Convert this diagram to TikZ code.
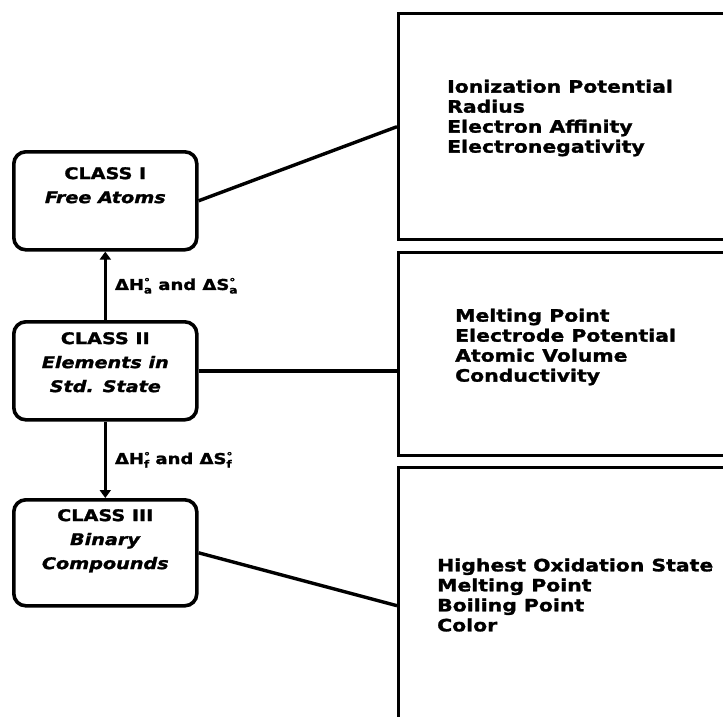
\documentclass[tikz,border=0pt]{standalone}
\usepackage{fontspec}
\setmainfont[FakeStretch=1.2, BoldFeatures={FakeBold=1.5}, BoldItalicFeatures={FakeBold=1.5}]{DejaVu Sans}
\usepackage{tikz}
\usetikzlibrary{arrows.meta, positioning, calc}

\newcommand{\stk}[2]{{\fontsize{10}{10}\selectfont\rlap{\raisebox{4.5pt}{#1}}\raisebox{-3.5pt}{#2}}}

\begin{document}
\begin{tikzpicture}[x=1pt, y=-1pt,
    cls/.style={draw, line width=3.6pt, rounded corners=12pt, minimum width=183pt, minimum height=98pt, anchor=north west},
    clstxt/.style={align=center, font=\fontsize{16}{24}\selectfont\bfseries, inner sep=0pt},
    prop/.style={draw, line width=3.4pt, minimum width=420pt, anchor=north west},
    lst/.style={align=left, anchor=west, font=\fontsize{17}{20}\selectfont\bfseries, inner sep=0pt},
    dlt/.style={font=\fontsize{15}{18}\selectfont\bfseries, inner sep=0pt},
    lnk/.style={line width=3.4pt},
    up/.style={line width=3.4pt, -{Triangle[length=8pt,width=11pt]}}]
    \useasboundingbox (0,0) rectangle (723,717);
    \clip (0,0) rectangle (723,717);
    % left column
    \node[cls] (cls1) at (12,150) {};
    \node[cls] (cls2) at (12,320) {};
    \node[cls, minimum height=106pt] (cls3) at (12,498) {};
    \node[clstxt, below=17pt of cls1.north] (t1) {CLASS I\\\textit{Free Atoms}};
    \node[clstxt, below=12pt of cls2.north] (t2) {CLASS II\\\textit{Elements in}\\\textit{Std. State}};
    \node[clstxt, below=11pt of cls3.north] (t3) {CLASS III\\\textit{Binary}\\\textit{Compounds}};
    \draw[up] (cls2.north) -- (cls1.south) node[dlt, midway, right=8pt] (d1) {ΔH\stk{°}{a} and ΔS\stk{°}{a}};
    \draw[up] (cls2.south) -- (cls3.north) node[dlt, midway, right=8pt] (d2) {ΔH\stk{°}{f} and ΔS\stk{°}{f}};
    % right column
    \node[prop, minimum height=226pt] (box1) at (397,12) {};
    \node[prop, minimum height=203pt] (box2) at (397,251) {};
    \node[prop, minimum height=260pt] (box3) at (397,466) {};
    \node[lst] (l1) at (447,118) {Ionization Potential\\Radius\\Electron Affinity\\Electronegativity};
    \node[lst] (l2) at (455,347) {Melting Point\\Electrode Potential\\Atomic Volume\\Conductivity};
    \node[lst] (l3) at (437,595) {Highest Oxidation State\\Melting Point\\Boiling Point\\Color};
    \draw[lnk] (cls1.east) -- (box1.west);
    \draw[lnk] (cls2.east) -- (cls2.east -| box2.west);
    \draw[lnk] (cls3.east) -- ([yshift=-8pt]box3.west);
\end{tikzpicture}
\end{document}
